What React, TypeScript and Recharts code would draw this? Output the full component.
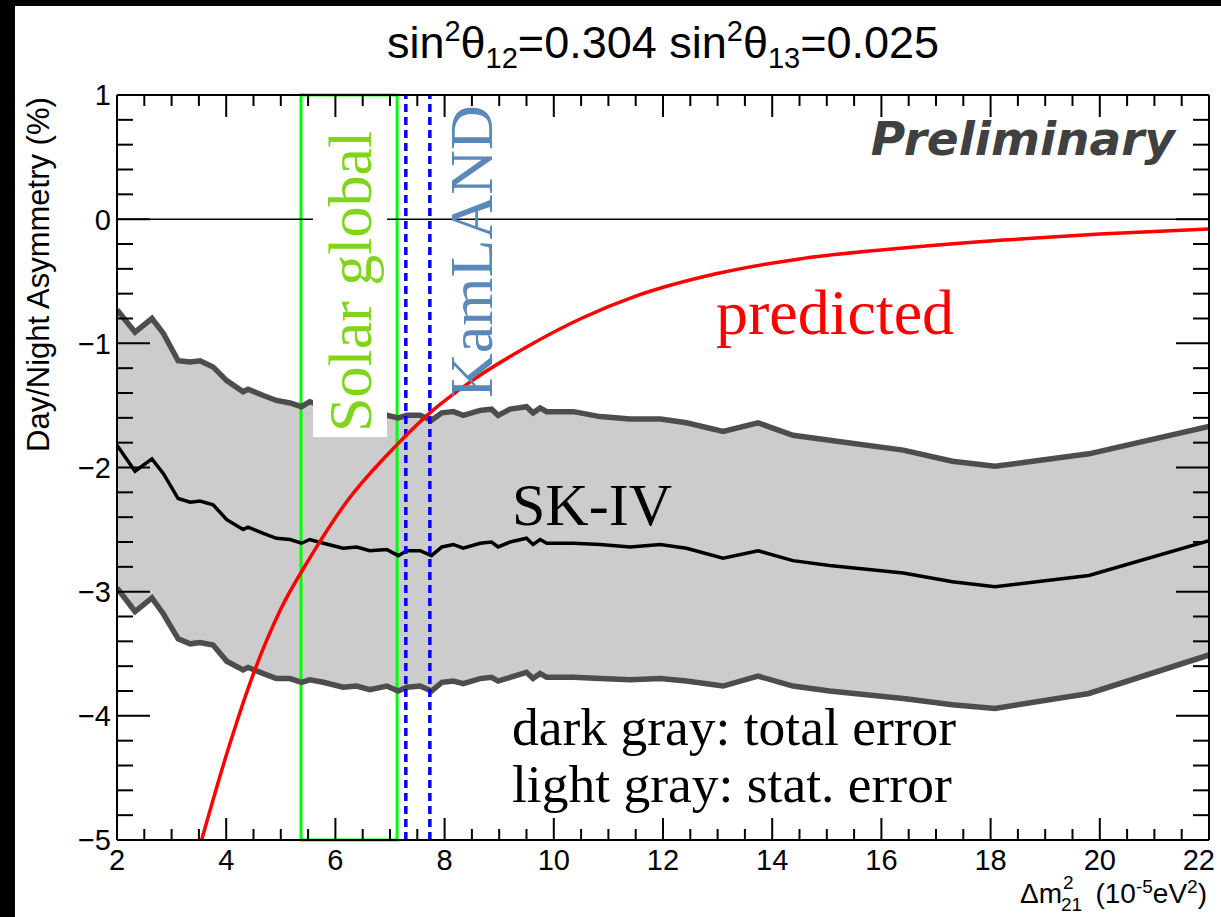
import React from 'react';
import {
  ComposedChart,
  Area,
  Line,
  XAxis,
  YAxis,
  ReferenceLine,
  ReferenceArea,
} from 'recharts';

// Δm²21 grid (10^-5 eV²) of the SK-IV day/night asymmetry scan
const dm2 = [
  2.0, 2.33, 2.64, 2.85, 3.12, 3.34, 3.52, 3.76, 4.01, 4.31, 4.4, 4.68, 4.92, 5.17,
  5.38, 5.53, 5.78, 6.14, 6.39, 6.63, 6.94, 7.15, 7.31, 7.55, 7.76, 7.95, 8.16, 8.34,
  8.65, 8.86, 8.98, 9.2, 9.5, 9.62, 9.75, 9.87, 10.36, 10.85, 11.4, 11.95, 12.43, 13.1,
  13.74, 14.38, 15.05, 16.4, 17.3, 18.08, 19.8, 22.0,
];

// measured asymmetry (%)
const asymCentral = [
  -1.82, -2.03, -1.93, -2.05, -2.25, -2.28, -2.27, -2.3, -2.42, -2.5, -2.48, -2.53, -2.57, -2.58,
  -2.61, -2.58, -2.61, -2.65, -2.64, -2.67, -2.66, -2.71, -2.67, -2.67, -2.71, -2.64, -2.62, -2.65,
  -2.61, -2.6, -2.64, -2.6, -2.57, -2.62, -2.58, -2.61, -2.61, -2.62, -2.64, -2.62, -2.65, -2.73,
  -2.67, -2.75, -2.79, -2.85, -2.92, -2.96, -2.87, -2.59,
];

// upper edge of the total error band
const totalErrUpper = [
  -0.73, -0.91, -0.8, -0.92, -1.14, -1.15, -1.14, -1.19, -1.3, -1.39, -1.37, -1.42, -1.46, -1.48,
  -1.51, -1.47, -1.51, -1.55, -1.54, -1.57, -1.58, -1.6, -1.58, -1.58, -1.62, -1.56, -1.55, -1.58,
  -1.54, -1.53, -1.58, -1.53, -1.51, -1.56, -1.52, -1.55, -1.55, -1.59, -1.61, -1.61, -1.64, -1.71,
  -1.64, -1.74, -1.78, -1.86, -1.95, -1.99, -1.89, -1.67,
];

// lower edge of the total error band
const totalErrLower = [
  -2.97, -3.16, -3.05, -3.18, -3.38, -3.42, -3.41, -3.43, -3.56, -3.63, -3.61, -3.66, -3.7, -3.7,
  -3.73, -3.71, -3.73, -3.77, -3.76, -3.79, -3.76, -3.8, -3.77, -3.76, -3.8, -3.73, -3.72, -3.74,
  -3.7, -3.69, -3.72, -3.69, -3.65, -3.7, -3.66, -3.69, -3.69, -3.7, -3.71, -3.7, -3.72, -3.76,
  -3.68, -3.76, -3.8, -3.86, -3.91, -3.94, -3.82, -3.51,
];

// predicted asymmetry curve
const predDm2 = [3.55, 4.0, 4.5, 5.0, 5.53, 6.2, 7.12, 7.73, 8.47, 9.5, 10.5, 11.5, 12.97, 14.5, 16.34, 18.17, 20.0, 22.0];
const predAsym = [-5.0, -4.32, -3.66, -3.14, -2.73, -2.28, -1.82, -1.56, -1.31, -1.03, -0.8, -0.62, -0.44, -0.32, -0.235, -0.17, -0.12, -0.08];

// allowed ranges
const solarGlobal = [5.37, 7.13];
const kamland = [7.29, 7.73];

const xTicks = [
  2, 2.5, 3, 3.5, 4, 4.5, 5, 5.5, 6, 6.5, 7, 7.5, 8, 8.5, 9, 9.5, 10, 10.5, 11, 11.5, 12,
  12.5, 13, 13.5, 14, 14.5, 15, 15.5, 16, 16.5, 17, 17.5, 18, 18.5, 19, 19.5, 20, 20.5, 21, 21.5, 22,
];
const yTicks = [
  -5, -4.8, -4.6, -4.4, -4.2, -4, -3.8, -3.6, -3.4, -3.2, -3, -2.8, -2.6, -2.4, -2.2, -2,
  -1.8, -1.6, -1.4, -1.2, -1, -0.8, -0.6, -0.4, -0.2, 0, 0.2, 0.4, 0.6, 0.8, 1,
];

const skData = dm2.map((x, i) => ({
  x,
  c: asymCentral[i],
  hi: totalErrUpper[i],
  lo: totalErrLower[i],
  band: [totalErrLower[i], totalErrUpper[i]],
}));
const predData = predDm2.map((x, i) => ({ x, p: predAsym[i] }));

const SANS = 'Liberation Sans, Arial, sans-serif';
const SERIF = 'Liberation Serif, Times New Roman, serif';

const isMajorX = (v: number) => Math.abs(v / 2 - Math.round(v / 2)) < 1e-6;
const isMajorY = (v: number) => Math.abs(v - Math.round(v)) < 1e-6;
const fmt = (v: number) => (v < 0 ? `\u2212${Math.abs(v)}` : `${v}`);

const BottomTick = (props: any) => {
  const { x, y, payload } = props;
  const v = payload.value as number;
  const major = isMajorX(v);
  const last = v === 22;
  return (
    <g>
      <line x1={x} x2={x} y1={y} y2={y - (major ? 22 : 11)} stroke="#000" strokeWidth={2} />
      {major && (
        <text
          x={last ? x + 6 : x}
          y={y + 30}
          textAnchor={last ? 'end' : 'middle'}
          fontSize={29}
          fontFamily={SANS}
          fill="#000"
        >
          {v}
        </text>
      )}
    </g>
  );
};

const TopTick = (props: any) => {
  const { x, y, payload } = props;
  const major = isMajorX(payload.value);
  return <line x1={x} x2={x} y1={y} y2={y + (major ? 22 : 11)} stroke="#000" strokeWidth={2} />;
};

const LeftTick = (props: any) => {
  const { x, y, payload } = props;
  const v = payload.value as number;
  const major = isMajorY(v);
  return (
    <g>
      <line x1={x} x2={x + (major ? 33 : 16)} y1={y} y2={y} stroke="#000" strokeWidth={2} />
      {major && (
        <text x={x - 6} y={y} dy="0.36em" textAnchor="end" fontSize={29} fontFamily={SANS} fill="#000">
          {fmt(Math.round(v))}
        </text>
      )}
    </g>
  );
};

const RightTick = (props: any) => {
  const { x, y, payload } = props;
  const major = isMajorY(payload.value);
  return <line x1={x} x2={x - (major ? 33 : 16)} y1={y} y2={y} stroke="#000" strokeWidth={2} />;
};

const W = 1221;
const H = 917;
const axisLine = { stroke: '#000', strokeWidth: 2 };

export default function App() {
  return (
    <div style={{ position: 'absolute', left: 0, top: 0, width: W, height: H, background: '#000', overflow: 'hidden' }}>
      <div style={{ position: 'absolute', left: 15, top: 6, width: W - 15, height: H - 6, background: '#fff' }} />
      <div style={{ position: 'absolute', left: 0, top: 0 }}>
        <ComposedChart
          width={W}
          height={H}
          data={skData}
          margin={{ top: 0, right: 0, bottom: 0, left: 0 }}
        >
          <XAxis
            type="number"
            dataKey="x"
            domain={[2, 22]}
            ticks={xTicks}
            interval={0}
            height={77}
            tickSize={0}
            tickMargin={0}
            tickLine={false}
            allowDataOverflow
            axisLine={axisLine}
            tick={BottomTick}
          />
          <XAxis
            xAxisId="top"
            orientation="top"
            type="number"
            dataKey="x"
            domain={[2, 22]}
            ticks={xTicks}
            interval={0}
            height={95}
            tickSize={0}
            tickMargin={0}
            tickLine={false}
            allowDataOverflow
            axisLine={axisLine}
            tick={TopTick}
          />
          <YAxis
            type="number"
            domain={[-5, 1]}
            ticks={yTicks}
            interval={0}
            width={117}
            tickSize={0}
            tickMargin={0}
            tickLine={false}
            allowDataOverflow
            axisLine={axisLine}
            tick={LeftTick}
          />
          <YAxis
            yAxisId="right"
            orientation="right"
            type="number"
            domain={[-5, 1]}
            ticks={yTicks}
            interval={0}
            width={12}
            tickSize={0}
            tickMargin={0}
            tickLine={false}
            allowDataOverflow
            axisLine={axisLine}
            tick={RightTick}
          />

          <Area
            dataKey="band"
            type="linear"
            fill="#cccccc"
            fillOpacity={1}
            stroke="none"
            isAnimationActive={false}
            dot={false}
            activeDot={false}
          />
          <Line dataKey="hi" type="linear" stroke="#4d4d4d" strokeWidth={5.5} dot={false} activeDot={false} isAnimationActive={false} />
          <Line dataKey="lo" type="linear" stroke="#4d4d4d" strokeWidth={5.5} dot={false} activeDot={false} isAnimationActive={false} />
          <Line dataKey="c" type="linear" stroke="#000" strokeWidth={3.5} dot={false} activeDot={false} isAnimationActive={false} />

          <ReferenceLine y={0} stroke="#000" strokeWidth={1.5} />

          <ReferenceArea
            x1={solarGlobal[0]}
            x2={solarGlobal[1]}
            y1={-5}
            y2={1}
            fill="none"
            stroke="#00ff00"
            strokeWidth={3}
          />
          <ReferenceLine x={kamland[0]} stroke="#0000ff" strokeWidth={3.5} strokeDasharray="8 5" />
          <ReferenceLine x={kamland[1]} stroke="#0000ff" strokeWidth={3.5} strokeDasharray="8 5" />

          <Line
            data={predData}
            dataKey="p"
            type="monotone"
            stroke="#ff0000"
            strokeWidth={3.5}
            dot={false}
            activeDot={false}
            isAnimationActive={false}
          />
        </ComposedChart>
      </div>

      <svg
        width={W}
        height={H}
        style={{ position: 'absolute', left: 0, top: 0, pointerEvents: 'none' }}
      >
        {/* title */}
        <text x={663} y={58} textAnchor="middle" fontSize={45} fontFamily={SANS} fill="#000">
          sin<tspan dy={-17} fontSize={29}>2</tspan>
          <tspan dy={17}>θ</tspan>
          <tspan dy={10} fontSize={29}>12</tspan>
          <tspan dy={-10}>=0.304 sin</tspan>
          <tspan dy={-17} fontSize={29}>2</tspan>
          <tspan dy={17}>θ</tspan>
          <tspan dy={10} fontSize={29}>13</tspan>
          <tspan dy={-10}>=0.025</tspan>
        </text>

        {/* axis titles */}
        <text
          transform="translate(49,452) rotate(-90)"
          fontSize={31}
          fontFamily={SANS}
          fill="#000"
        >
          Day/Night Asymmetry (%)
        </text>

        {/* x-axis title: Δm with stacked ² and ₂₁, then the unit */}
        <text x={1020} y={903} fontSize={28} fontFamily={SANS} fill="#000">
          Δm
        </text>
        <text x={1063} y={889} fontSize={19} fontFamily={SANS} fill="#000">
          2
        </text>
        <text x={1061} y={911} fontSize={19} fontFamily={SANS} fill="#000">
          21
        </text>
        <text x={1207} y={903} textAnchor="end" fontSize={28} fontFamily={SANS} fill="#000">
          (10<tspan dy={-10} fontSize={19}>-5</tspan>
          <tspan dy={10}>eV</tspan>
          <tspan dy={-10} fontSize={19}>2</tspan>
          <tspan dy={10}>)</tspan>
        </text>

        <text
          x={1175}
          y={155}
          textAnchor="end"
          fontSize={47}
          fontWeight="bold"
          fontStyle="italic"
          fontFamily="DejaVu Sans, sans-serif"
          fill="#404040"
        >
          Preliminary
        </text>

        {/* label backdrop for the solar range */}
        <rect x={313} y={125} width={74} height={312} fill="#fff" />
        <text
          transform="translate(371,432) rotate(-90)"
          fontSize={62}
          fontFamily={SERIF}
          fill="#80d41a"
        >
          Solar global
        </text>
        <text
          transform="translate(492,398) rotate(-90)"
          fontSize={62}
          fontFamily={SERIF}
          fill="#5a88b8"
        >
          KamLAND
        </text>

        <text x={716} y={334} fontSize={64} fontFamily={SERIF} fill="#ff0000">
          predicted
        </text>
        <text x={512} y={525} fontSize={60} fontFamily={SERIF} fill="#000">
          SK-IV
        </text>
        <text x={512} y={745} fontSize={53.5} fontFamily={SERIF} fill="#000">
          dark gray: total error
        </text>
        <text x={512} y={802} fontSize={53.5} fontFamily={SERIF} fill="#000">
          light gray: stat. error
        </text>
      </svg>
    </div>
  );
}
